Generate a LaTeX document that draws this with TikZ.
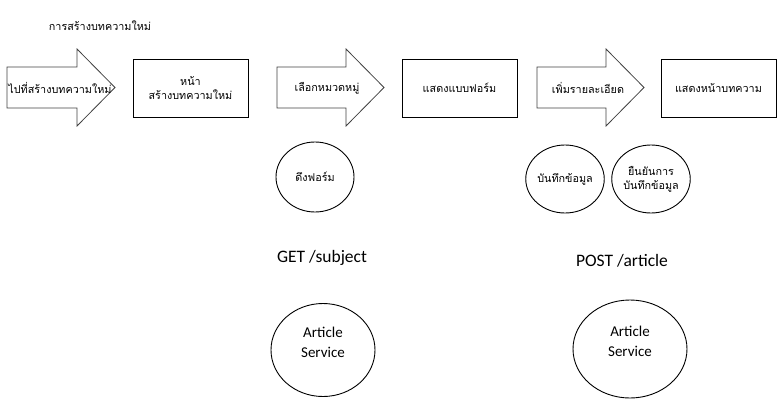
\documentclass[tikz,border=0pt]{standalone}
\usepackage{fontspec}
\setmainfont{Carlito}
\newfontfamily\thaifont[Script=Thai]{Loma}
\usetikzlibrary{shapes.geometric}
\def\servicetext{\raisebox{3pt}[0pt][0pt]{\begin{tabular}{@{}c@{}}Article\\[-1pt]Service\end{tabular}}}
\tikzset{
  thai/.style={font=\thaifont\fontsize{10.8}{14}\selectfont, align=center, inner sep=0pt},
  pagebox/.style={draw, line width=0.9pt, minimum width=115pt, minimum height=58pt, inner sep=0pt},
  bubble/.style={draw, ellipse, line width=0.9pt, inner sep=0pt},
  apilabel/.style={font=\fontsize{17.5}{20}\selectfont, inner sep=0pt},
  service/.style={bubble, font=\fontsize{15}{20.5}\selectfont}
}
\begin{document}
\begin{tikzpicture}[x=1pt, y=-1pt]
			%%%%% START %%%%%
			\useasboundingbox (0, 0) rectangle (779, 410);
			
			\node[thai] (title) at (100, 26) {การสร้างบทความใหม่};
			
			\draw[line width=0.8pt, color=black!75] (7, 67) -- (77, 67) -- (77, 49) -- (115, 87.5) -- (77, 126) -- (77, 108) -- (7, 108) -- cycle;
			\node[thai] (goarrow) at (60, 88) {ไปที่สร้างบทความใหม่};
			\node[pagebox, thai] (newpage) at (190.5, 88) {หน้า\\สร้างบทความใหม่};
			
			\draw[line width=0.8pt, color=black!75] (277, 67) -- (346, 67) -- (346, 49) -- (384, 87.5) -- (346, 126) -- (346, 108) -- (277, 108) -- cycle;
			\node[thai] (pickarrow) at (327, 88) {เลือกหมวดหมู่};
			\node[pagebox, thai] (formpage) at (459.5, 88) {แสดงแบบฟอร์ม};
			
			\draw[line width=0.8pt, color=black!75] (537, 67) -- (606, 67) -- (606, 49) -- (644, 87.5) -- (606, 126) -- (606, 108) -- (537, 108) -- cycle;
			\node[thai] (detailarrow) at (588, 88) {เพิ่มรายละเอียด};
			\node[pagebox, thai, anchor=west] (articlepage) at (661, 88) {\hspace*{11pt}แสดงหน้าบทความ\hspace*{12pt}};
			
			\node[bubble, thai, minimum width=78pt, minimum height=70pt] (fetchform) at (315, 177) {ดึงฟอร์ม};
			\node[bubble, thai, minimum width=78pt, minimum height=68pt] (saveform) at (565, 179) {บันทึกข้อมูล};
			\node[bubble, thai, minimum width=78pt, minimum height=68pt] (confirmsave) at (651, 179) {ยืนยันการ\\บันทึกข้อมูล};
			
			\node[apilabel] (getsubject) at (322, 258) {GET /subject};
			\node[apilabel] (postarticle) at (622, 261) {POST /article};
			
			\node[service, minimum width=104pt, minimum height=93pt] (servicea) at (323, 350) {\servicetext};
			\node[service, minimum width=114pt, minimum height=98pt] (serviceb) at (630, 349) {\servicetext};
			%%%%% END %%%%%
\end{tikzpicture}
\end{document}
